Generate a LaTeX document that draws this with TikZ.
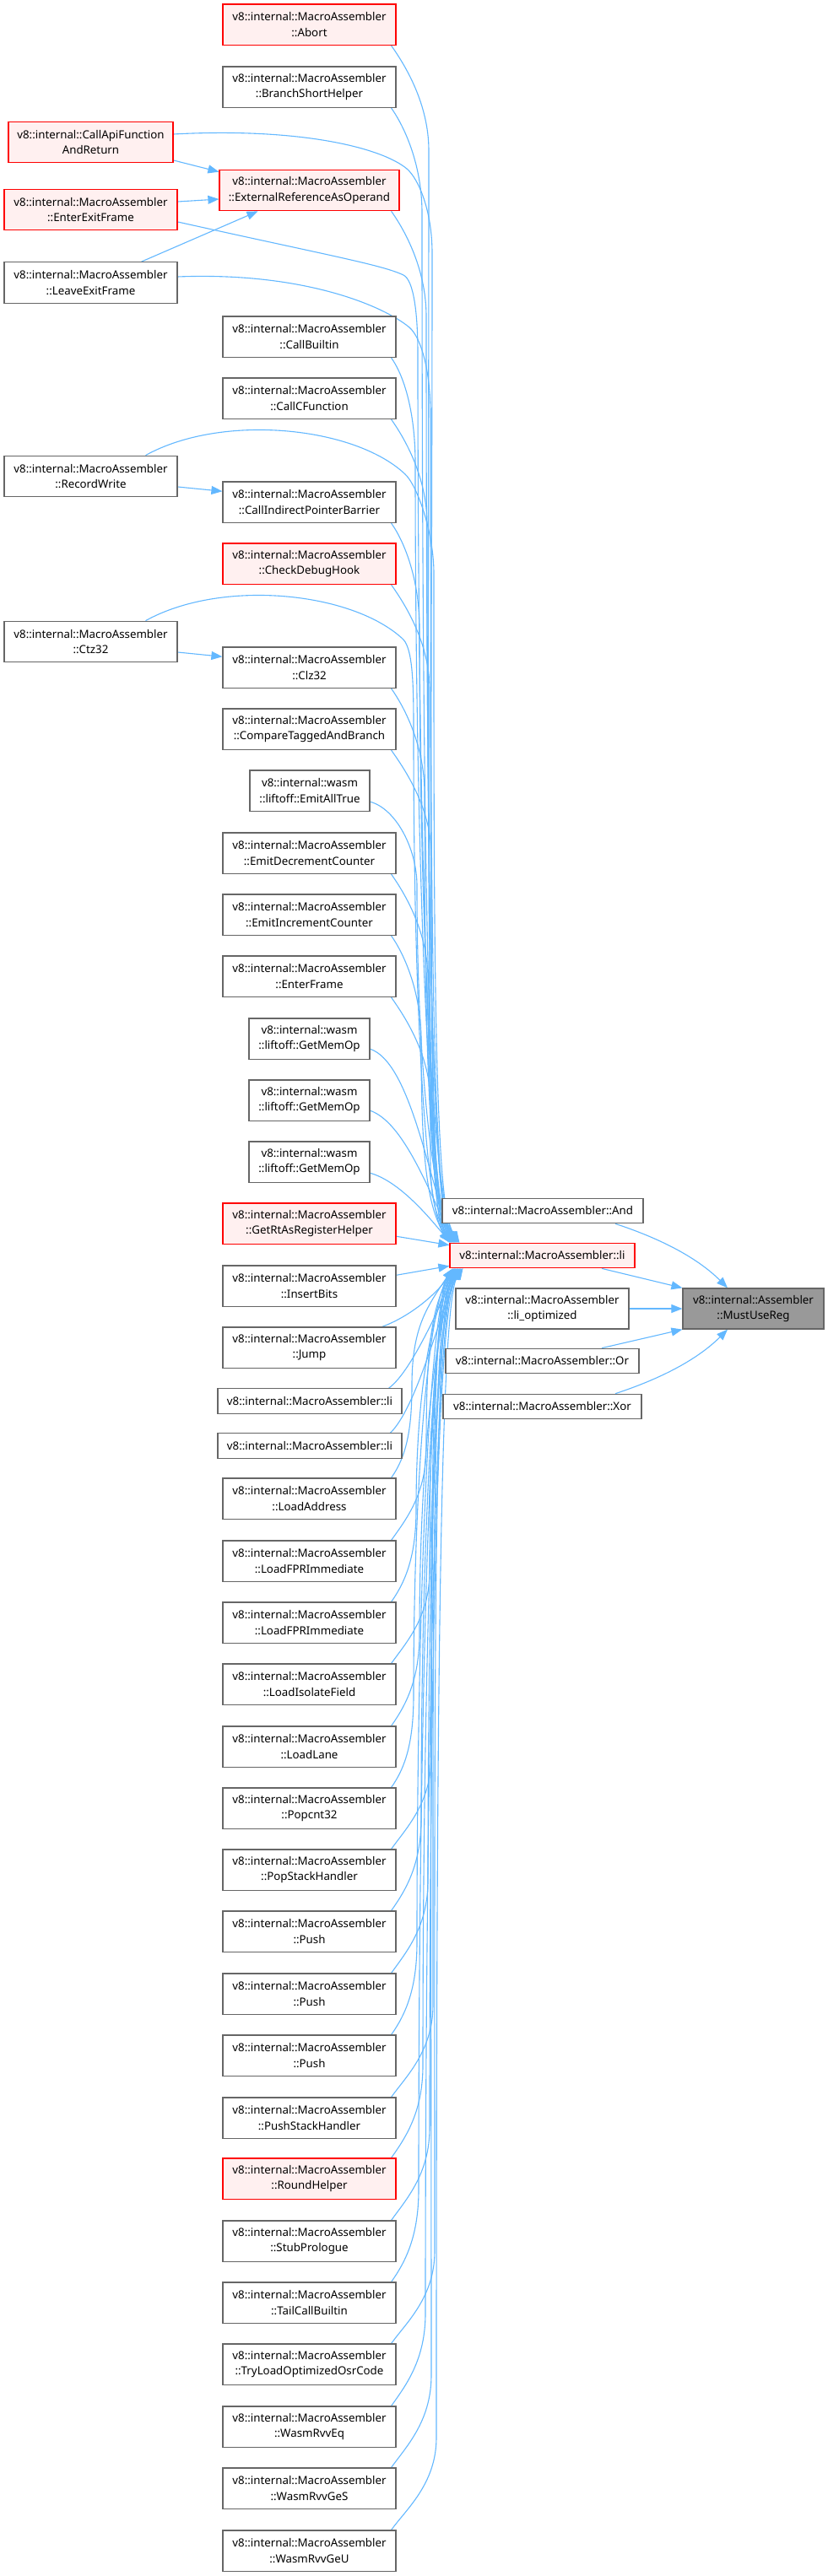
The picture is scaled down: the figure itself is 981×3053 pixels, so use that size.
\documentclass[tikz,border=0pt]{standalone}
\usepackage{fontspec}
\newfontfamily\nodefont{Noto Sans}
\usetikzlibrary{arrows.meta}
\definecolor{edgeblue}{HTML}{63B8FF}
\definecolor{boxgray}{HTML}{666666}
\definecolor{boxred}{HTML}{FF0000}
\definecolor{redfill}{HTML}{FFF0F0}
\definecolor{hlfill}{HTML}{999999}
\pgfdeclarelayer{bg}
\pgfdeclarelayer{edges}
\pgfsetlayers{bg,edges,main}
\tikzset{
  box/.style={draw=boxgray, fill=white, line width=1.2pt, inner sep=0pt, align=center,
    font={\nodefont\fontsize{13.3pt}{18.5pt}\selectfont}, minimum height=48.5pt},
  onebox/.style={box, minimum height=29.5pt},
  redbox/.style={box, draw=boxred, fill=redfill},
  hlbox/.style={box, fill=hlfill},
  edge/.style={draw=edgeblue, line width=1.1pt, -{Triangle[length=13pt,width=10pt]}},
}
% two-line MacroAssembler node in the middle column
\newcommand\mnode[4][box]{\node[#1,minimum width=205pt] (#2) at (366.5,#3) {v8::internal::MacroAssembler\\#4};}
% edge from a node above li: node, bottom y, bundle x, end shift
\newcommand\dnedge[4]{\draw[edge] ([xshift=-6pt]#1.south east) .. controls +(17,24) and +(0,-55) .. (#3,#2+125) .. controls +(0,{0.5*(1473-#2-125)}) and +(-30,-45) .. ([xshift=#4pt]li.north west);}
% edge from a node below li: node, top y, bundle x, end shift
\newcommand\upedge[4]{\draw[edge] ([xshift=-6pt]#1.north east) .. controls +(17,-24) and +(0,55) .. (#3,#2-110) .. controls +(0,{-0.5*(#2-110-1503)}) and +(-30,45) .. ([xshift=#4pt]li.south west);}
\begin{document}
\begin{tikzpicture}[x=1pt,y=-1pt]
\begin{pgfonlayer}{bg}
\fill[white] (0,0) rectangle (981,3053);
\end{pgfonlayer}
\useasboundingbox (0,0) rectangle (981,3053);

% ---- middle column
\mnode[redbox]{abort}{29.25}{::Abort}
\mnode{branch}{103.25}{::BranchShortHelper}
\node[redbox,minimum width=213pt] (extref) at (366.5,225.5) {v8::internal::MacroAssembler\\::ExternalReferenceAsOperand};
\mnode{callbuiltin}{399.25}{::CallBuiltin}
\mnode{callcfunc}{472.25}{::CallCFunction}
\mnode{cipb}{595.25}{::CallIndirectPointerBarrier}
\mnode[redbox]{checkdebug}{668.25}{::CheckDebugHook}
\mnode{clz}{791.25}{::Clz32}
\mnode{compare}{864.25}{::CompareTaggedAndBranch}
\node[box,minimum width=142pt] (emitall) at (367,937.25) {v8::internal::wasm\\::liftoff::EmitAllTrue};
\mnode{emitdec}{1011.25}{::EmitDecrementCounter}
\mnode{emitinc}{1084.25}{::EmitIncrementCounter}
\mnode{enterframe}{1157.25}{::EnterFrame}
\node[box,minimum width=143pt] (gma) at (366.5,1231.25) {v8::internal::wasm\\::liftoff::GetMemOp};
\node[box,minimum width=143pt] (gmb) at (366.5,1304.25) {v8::internal::wasm\\::liftoff::GetMemOp};
\node[box,minimum width=143pt] (gmc) at (366.5,1377.25) {v8::internal::wasm\\::liftoff::GetMemOp};
\mnode[redbox]{getrt}{1450.25}{::GetRtAsRegisterHelper}
\mnode{insertbits}{1524.25}{::InsertBits}
\mnode{jump}{1597.25}{::Jump}
\node[onebox,minimum width=218pt] (lia) at (367,1660.5) {v8::internal::MacroAssembler::li};
\node[onebox,minimum width=218pt] (lib) at (367,1713.5) {v8::internal::MacroAssembler::li};
\mnode{loadaddr}{1776.25}{::LoadAddress}
\mnode{lfpra}{1850.25}{::LoadFPRImmediate}
\mnode{lfprb}{1923.25}{::LoadFPRImmediate}
\mnode{lisolate}{1996.25}{::LoadIsolateField}
\mnode{loadlane}{2070.25}{::LoadLane}
\mnode{popcnt}{2143.25}{::Popcnt32}
\mnode{popsh}{2216.25}{::PopStackHandler}
\mnode{pusha}{2289.25}{::Push}
\mnode{pushb}{2363.25}{::Push}
\mnode{pushc}{2436.25}{::Push}
\mnode{pushsh}{2510.25}{::PushStackHandler}
\mnode[redbox]{round}{2582.25}{::RoundHelper}
\mnode{stub}{2656.25}{::StubPrologue}
\mnode{tailcall}{2729.25}{::TailCallBuiltin}
\mnode{tryload}{2802.25}{::TryLoadOptimizedOsrCode}
\mnode{rvveq}{2876.25}{::WasmRvvEq}
\mnode{rvvges}{2949.25}{::WasmRvvGeS}
\mnode{rvvgeu}{3023.25}{::WasmRvvGeU}

% ---- left column
\node[redbox,minimum width=195pt] (callapi) at (107.5,168.5) {v8::internal::CallApiFunction\\AndReturn};
\node[redbox,minimum width=205pt] (enterexit) at (107.5,248.5) {v8::internal::MacroAssembler\\::EnterExitFrame};
\node[box,minimum width=205pt] (leaveexit) at (107.5,335) {v8::internal::MacroAssembler\\::LeaveExitFrame};
\node[box,minimum width=205pt] (recordwrite) at (107.5,564.5) {v8::internal::MacroAssembler\\::RecordWrite};
\node[box,minimum width=205pt] (ctz) at (107.5,760.5) {v8::internal::MacroAssembler\\::Ctz32};

% ---- right part
\node[onebox,minimum width=238pt] (nand) at (643,1435) {v8::internal::MacroAssembler::And};
\node[redbox,minimum height=29.5pt,minimum width=219pt] (li) at (642.5,1488) {v8::internal::MacroAssembler::li};
\node[box,minimum width=205pt,minimum height=48pt] (liopt) at (642.5,1551) {v8::internal::MacroAssembler\\::li\_optimized};
\node[onebox,minimum width=229pt] (nor) at (642.5,1613) {v8::internal::MacroAssembler::Or};
\node[onebox,minimum width=235pt] (nxor) at (642.5,1667) {v8::internal::MacroAssembler::Xor};
\node[hlbox,minimum width=167pt,minimum height=48pt] (mur) at (892.5,1551) {v8::internal::Assembler\\::MustUseReg};

\begin{pgfonlayer}{edges}
% edges into ExternalReferenceAsOperand and other short ones
\draw[edge] ([yshift=-21.5pt]callapi.east) -- ([yshift=-3pt]extref.north west);
\draw[edge] ([yshift=9.5pt]enterexit.east) -- ([yshift=-10.5pt]extref.west);
\draw[edge] ([xshift=60pt]leaveexit.north) -- ([xshift=-61pt]extref.south);
\draw[edge] ([yshift=-12.5pt]recordwrite.east) -- ([yshift=13pt]cipb.west);
\draw[edge] ([yshift=-12.5pt]ctz.east) -- ([yshift=13pt]clz.west);

% long edges from the left column into li
\draw[edge] ([yshift=9.5pt]callapi.east) .. controls +(150,-8) and +(-30,-25) .. (482,200) .. controls +(14,12) and +(0,-50) .. (512,300) .. controls +(0,586) and +(-30,-45) .. ([xshift=2pt]li.north west);
\draw[edge] ([yshift=-14.5pt]enterexit.east) .. controls +(180,40) and +(-25,-12) .. (478,326) .. controls +(12,6) and +(0,-50) .. (495,420) .. controls +(0,526) and +(-30,-45) .. ([xshift=5pt]li.north west);
\draw[edge] ([yshift=7pt]leaveexit.east) .. controls +(150,-6) and +(-30,-25) .. (485,388) .. controls +(14,12) and +(0,-50) .. (510,490) .. controls +(0,491) and +(-30,-45) .. ([xshift=8pt]li.north west);
\draw[edge] ([xshift=65pt]recordwrite.north) .. controls +(90,-50) and +(-60,-57) .. (480,562) .. controls +(14,13) and +(0,-50) .. (514,680) .. controls +(0,396) and +(-30,-45) .. ([xshift=11pt]li.north west);
\draw[edge] ([xshift=65pt]ctz.north) .. controls +(90,-50) and +(-60,-57) .. (478,758) .. controls +(12,13) and +(0,-50) .. (490,870) .. controls +(0,301) and +(-30,-45) .. (li.north west);

% middle column, above li
\dnedge{abort}{53.5}{508}{0}
\dnedge{branch}{127.5}{500}{3}
\draw[edge] ([xshift=-10pt]extref.south east) .. controls +(17,24) and +(0,-55) .. (505,375) .. controls +(0,549) and +(-30,-45) .. ([xshift=7pt]li.north west);
\dnedge{callbuiltin}{423.5}{492}{6}
\dnedge{callcfunc}{496.5}{506}{9}
\dnedge{cipb}{619.5}{497}{12}
\dnedge{checkdebug}{692.5}{509}{2}
\dnedge{clz}{815.5}{503}{5}
\dnedge{compare}{888.5}{511}{8}
\draw[edge] ([yshift=-13pt]emitall.east) .. controls +(30,8) and +(0,-45) .. (494,1050) .. controls +(0,211) and +(-30,-45) .. ([xshift=10pt]li.north west);
\dnedge{emitdec}{1035.5}{507}{11}
\dnedge{emitinc}{1108.5}{499}{1}
\dnedge{enterframe}{1181.5}{510}{4}
\draw[edge] ([yshift=-12pt]gma.east) .. controls +(45,15) and +(-30,-90) .. ([xshift=3pt]li.north west);
\draw[edge] ([yshift=-12pt]gmb.east) .. controls +(40,14) and +(-30,-60) .. ([xshift=6pt]li.north west);
\draw[edge] ([yshift=-13pt]gmc.east) .. controls +(35,10) and +(-25,-30) .. ([xshift=1pt]li.north west);
\draw[edge] ([yshift=-15pt]getrt.east) -- ([yshift=-3pt]li.north west);

% middle column, below li
\draw[edge] ([yshift=13pt]insertbits.east) -- ([yshift=3pt]li.south west);
\draw[edge] ([xshift=-17pt]jump.north east) .. controls +(28,-10) and +(-25,35) .. ([xshift=6pt]li.south west);
\draw[edge] ([xshift=-16pt]lia.north east) .. controls +(25,-18) and +(-25,55) .. ([xshift=9pt]li.south west);
\draw[edge] ([xshift=-14pt]lib.north east) .. controls +(30,-30) and +(-28,70) .. ([xshift=12pt]li.south west);
\upedge{loadaddr}{1752}{488}{4}
\upedge{lfpra}{1826}{505}{7}
\upedge{lfprb}{1899}{493}{10}
\upedge{lisolate}{1972}{509}{13}
\upedge{loadlane}{2046}{497}{16}
\upedge{popcnt}{2119}{490}{5}
\upedge{popsh}{2192}{511}{8}
\upedge{pusha}{2265}{499}{11}
\upedge{pushb}{2339}{507}{14}
\upedge{pushc}{2412}{494}{6}
\upedge{pushsh}{2486}{513}{9}
\upedge{round}{2558}{501}{12}
\upedge{stub}{2632}{509}{15}
\upedge{tailcall}{2705}{496}{7}
\upedge{tryload}{2778}{515}{10}
\upedge{rvveq}{2852}{504}{13}
\upedge{rvvges}{2925}{511}{4}
\upedge{rvvgeu}{2999}{517}{16}

% into MustUseReg
\draw[edge] ([xshift=86pt]nand.south) .. controls +(55,18) and +(-35,-35) .. ([xshift=-30.5pt]mur.north);
\draw[edge] ([xshift=70.5pt]li.south) -- (mur.north west);
\draw[edge] (liopt.east) -- (mur.west);
\draw[edge] ([xshift=70.5pt]nor.north) -- (mur.south west);
\draw[edge] ([xshift=86.5pt]nxor.north) .. controls +(55,-18) and +(-35,35) .. ([xshift=-30.5pt]mur.south);
\end{pgfonlayer}
\end{tikzpicture}
\end{document}
